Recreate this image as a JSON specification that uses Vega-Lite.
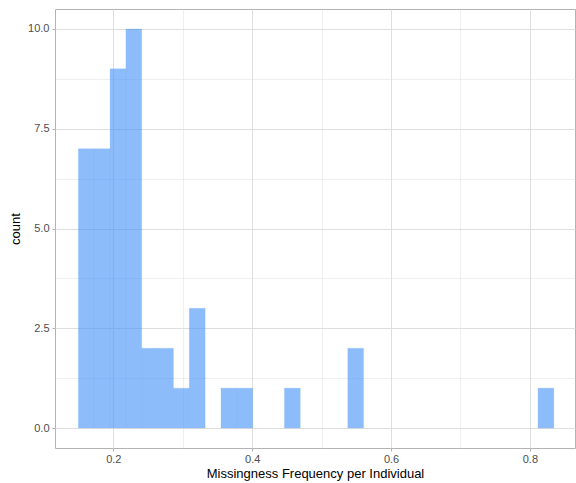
{
  "$schema": "https://vega.github.io/schema/vega-lite/v6.json",
  "width": 520,
  "height": 439,
  "autosize": "none",
  "padding": {"left": 55, "top": 9, "right": 1, "bottom": 35},
  "background": "white",
  "config": {
    "view": {"stroke": "#b3b3b3", "strokeWidth": 1},
    "font": "Liberation Sans"
  },
  "data": {
    "values": [
      {"bin_start": 0.1496, "bin_end": 0.1724, "count": 7},
      {"bin_start": 0.1724, "bin_end": 0.1953, "count": 7},
      {"bin_start": 0.1953, "bin_end": 0.2181, "count": 9},
      {"bin_start": 0.2181, "bin_end": 0.2409, "count": 10},
      {"bin_start": 0.2409, "bin_end": 0.2638, "count": 2},
      {"bin_start": 0.2638, "bin_end": 0.2866, "count": 2},
      {"bin_start": 0.2866, "bin_end": 0.3094, "count": 1},
      {"bin_start": 0.3094, "bin_end": 0.3323, "count": 3},
      {"bin_start": 0.3551, "bin_end": 0.3779, "count": 1},
      {"bin_start": 0.3779, "bin_end": 0.4008, "count": 1},
      {"bin_start": 0.4464, "bin_end": 0.4693, "count": 1},
      {"bin_start": 0.5377, "bin_end": 0.5605, "count": 2},
      {"bin_start": 0.8117, "bin_end": 0.8345, "count": 1}
    ]
  },
  "mark": {"type": "rect", "fill": "#4390fa", "stroke": "#4390fa", "strokeWidth": 0.25, "opacity": 0.6},
  "encoding": {
    "x": {
      "field": "bin_start",
      "type": "quantitative",
      "scale": {"domain": [0.116, 0.865], "nice": false, "zero": false},
      "axis": {
        "title": "Missingness Frequency per Individual",
        "values": [0.2, 0.3, 0.4, 0.5, 0.6, 0.7, 0.8],
        "labelExpr": "round(datum.value*10) % 2 == 1 ? '' : format(datum.value, '.1f')",
        "labelFontSize": 11,
        "labelColor": "#4d4d4d",
        "labelPadding": 2,
        "tickColor": "#b3b3b3",
        "tickSize": 3,
        "tickOpacity": {"condition": {"test": "round(datum.value*10) % 2 == 1", "value": 0}, "value": 1},
        "domain": false,
        "grid": true,
        "gridColor": "#dedede",
        "gridWidth": {"condition": {"test": "round(datum.value*10) % 2 == 1", "value": 0.5}, "value": 1},
        "titleFontSize": 13,
        "titleFontWeight": "normal",
        "titleColor": "#000000",
        "titlePadding": 3
      }
    },
    "x2": {"field": "bin_end"},
    "y": {
      "field": "count",
      "type": "quantitative",
      "scale": {"domain": [-0.5, 10.5], "nice": false, "zero": false},
      "axis": {
        "title": "count",
        "values": [0, 1.25, 2.5, 3.75, 5, 6.25, 7.5, 8.75, 10],
        "labelExpr": "datum.value % 2.5 != 0 ? '' : format(datum.value, '.1f')",
        "labelFontSize": 11,
        "labelColor": "#4d4d4d",
        "labelPadding": 3,
        "tickColor": "#b3b3b3",
        "tickSize": 3,
        "tickOpacity": {"condition": {"test": "datum.value % 2.5 != 0", "value": 0}, "value": 1},
        "domain": false,
        "grid": true,
        "gridColor": "#dedede",
        "gridWidth": {"condition": {"test": "datum.value % 2.5 != 0", "value": 0.5}, "value": 1},
        "titleFontSize": 13,
        "titleFontWeight": "normal",
        "titleColor": "#000000",
        "titlePadding": 5
      }
    },
    "y2": {"datum": 0}
  }
}
